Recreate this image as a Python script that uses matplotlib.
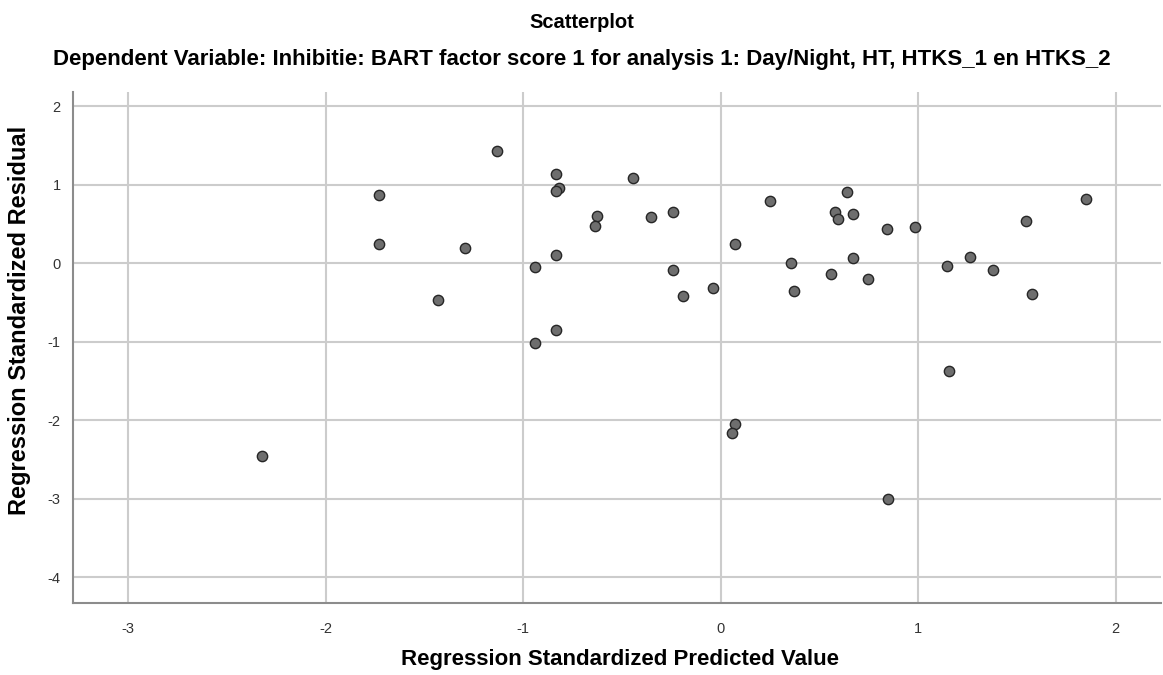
import matplotlib
matplotlib.use("Agg")
import matplotlib.pyplot as plt

plt.rcParams['font.family'] = ['Liberation Sans', 'DejaVu Sans']
plt.rcParams['axes.unicode_minus'] = False

# regression standardized predicted value vs standardized residual
predicted = [-1.73, -1.73, -2.324,
             -1.135, -0.834, -0.819, -0.836, -0.444, 0.250, -0.628, -0.635,
             -0.353, -0.240, -1.297, 0.074, -0.834, -0.942, -0.240, -0.039,
             -0.193, -1.431, -0.834, -0.942, 0.074, 0.057,
             0.641, 0.581, 0.594, 0.670, 0.843, 0.986, 1.849, 1.548, 0.358,
             0.672, 0.557, 0.745, 0.371, 1.145, 1.265, 1.381, 1.575, 1.158,
             0.848]
residual = [0.862, 0.242, -2.462,
            1.424, 1.135, 0.957, 0.914, 1.084, 0.791, 0.595, 0.472,
            0.582, 0.654, 0.195, 0.246, 0.106, -0.051, -0.085, -0.319,
            -0.421, -0.472, -0.855, -1.020, -2.054, -2.165,
            0.905, 0.654, 0.565, 0.620, 0.434, 0.459, 0.820, 0.531, 0.004,
            0.064, -0.133, -0.204, -0.349, -0.038, 0.080, -0.089, -0.395, -1.374,
            -3.010]

x_ticks = [-3, -2, -1, 0, 1, 2]
y_ticks = [-4, -3, -2, -1, 0, 1, 2]

W, H = 1163, 675
fig = plt.figure(figsize=(W / 100, H / 100), dpi=100)
ax = fig.add_axes([73 / W, 1 - 603 / H, (1161 - 73) / W, (603 - 92) / H])

ax.scatter(predicted, residual, s=55, c='#6e6e6e', edgecolors='#262626',
           linewidths=1.0, zorder=3)

ax.set_xlim(-3.28, 2.23)
ax.set_ylim(-4.33, 2.18)
ax.set_xticks(x_ticks)
ax.set_yticks(y_ticks)
ax.grid(True, color='#cccccc', linewidth=1.5, zorder=0)
ax.set_axisbelow(True)

for side in ['top', 'right']:
    ax.spines[side].set_visible(False)
for side in ['left', 'bottom']:
    ax.spines[side].set_color('#8c8c8c')
    ax.spines[side].set_linewidth(1.5)

ax.tick_params(length=0, labelsize=10.5, colors='#333333')
ax.tick_params(axis='x', pad=14)
ax.tick_params(axis='y', pad=9)

# titles and axis labels
fig.text(0.5, 1 - 22 / H, 'Scatterplot', ha='center', va='center',
         fontsize=14.5, fontweight='bold')
fig.text(0.5, 1 - 60 / H,
         'Dependent Variable: Inhibitie: BART factor score 1 for analysis 1: '
         'Day/Night, HT, HTKS_1 en HTKS_2',
         ha='center', va='center', fontsize=16, fontweight='bold')
fig.text(620 / W, 1 - 660 / H, 'Regression Standardized Predicted Value',
         ha='center', va='center', fontsize=16, fontweight='bold')
fig.text(20 / W, 1 - 320 / H, 'Regression Standardized Residual',
         ha='center', va='center', rotation=90, fontsize=17, fontweight='bold')

fig.savefig('out.png', dpi=100, facecolor='white')
